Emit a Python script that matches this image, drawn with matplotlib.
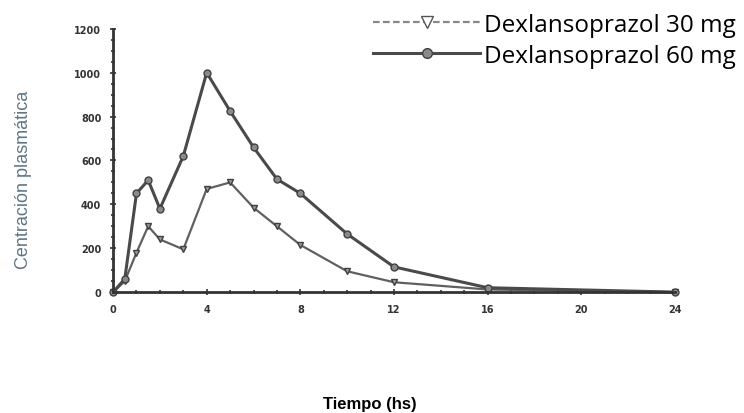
import matplotlib
matplotlib.use("Agg")
import matplotlib.pyplot as plt
from matplotlib.ticker import MultipleLocator

# tiempo (h) y concentracion plasmatica
t      = [0, 0.5, 1, 1.5, 2, 3, 4, 5, 6, 7, 8, 10, 12, 16, 24]
dex30  = [0, 50, 180, 300, 240, 195, 470, 500, 385, 300, 215, 95, 45, 12, 0]
dex60  = [0, 60, 450, 510, 380, 620, 1000, 825, 660, 515, 450, 265, 115, 20, 0]

xticks = [0, 4, 8, 12, 16, 20, 24]
yticks = [0, 200, 400, 600, 800, 1000, 1200]

fig = plt.figure(figsize=(7.44, 4.14), dpi=100)
ax = fig.add_axes([0.152, 0.292, 0.755, 0.636])

l30, = ax.plot(t, dex30, color='#606060', lw=1.6, marker='v', ms=5,
               mfc='#9a9a9a', mec='#404040', clip_on=False)
l60, = ax.plot(t, dex60, color='#4a4a4a', lw=2.2, marker='o', ms=5,
               mfc='#8a8a8a', mec='#404040', clip_on=False)

ax.set_xlim(0, 24)
ax.set_ylim(0, 1200)
ax.set_xticks(xticks)
ax.set_yticks(yticks)
ax.xaxis.set_minor_locator(MultipleLocator(1))
ax.yaxis.set_minor_locator(MultipleLocator(50))
ax.tick_params(which='both', direction='inout', color='#333333', width=1.2)
ax.tick_params(which='major', length=5, labelsize=7, pad=6)
ax.tick_params(which='minor', length=3)
for lab in ax.get_xticklabels() + ax.get_yticklabels():
    lab.set_fontweight('bold')
    lab.set_color('#333333')

for s in ['top', 'right']:
    ax.spines[s].set_visible(False)
for s in ['left', 'bottom']:
    ax.spines[s].set_linewidth(2)
    ax.spines[s].set_color('#333333')

ax.set_ylabel('Centración plasmática', fontsize=13, color='#5f7585',
              family='Liberation Sans')
ax.yaxis.set_label_coords(-0.145, 0.43)
fig.text(0.497, 0.012, 'Tiempo (hs)', fontsize=12, fontweight='bold',
         family='Liberation Sans', ha='center')

leg = fig.legend([l30, l60], ['Dexlansoprazol 30 mg', 'Dexlansoprazol 60 mg'],
                 loc='upper right', bbox_to_anchor=(1.018, 1.02), frameon=False,
                 handlelength=4.4, labelspacing=0.3, markerscale=1.8,
                 handletextpad=0.15, prop={'family': 'Open Sans', 'size': 17.5})
h30, h60 = leg.legend_handles
h30.set_markerfacecolor('white')
h30.set_linestyle((0, (3, 1.5)))
h30.set_color('#888888')
h30.set_markeredgecolor('#555555')
h60.set_markersize(7)

fig.savefig('out.png', dpi=100)
